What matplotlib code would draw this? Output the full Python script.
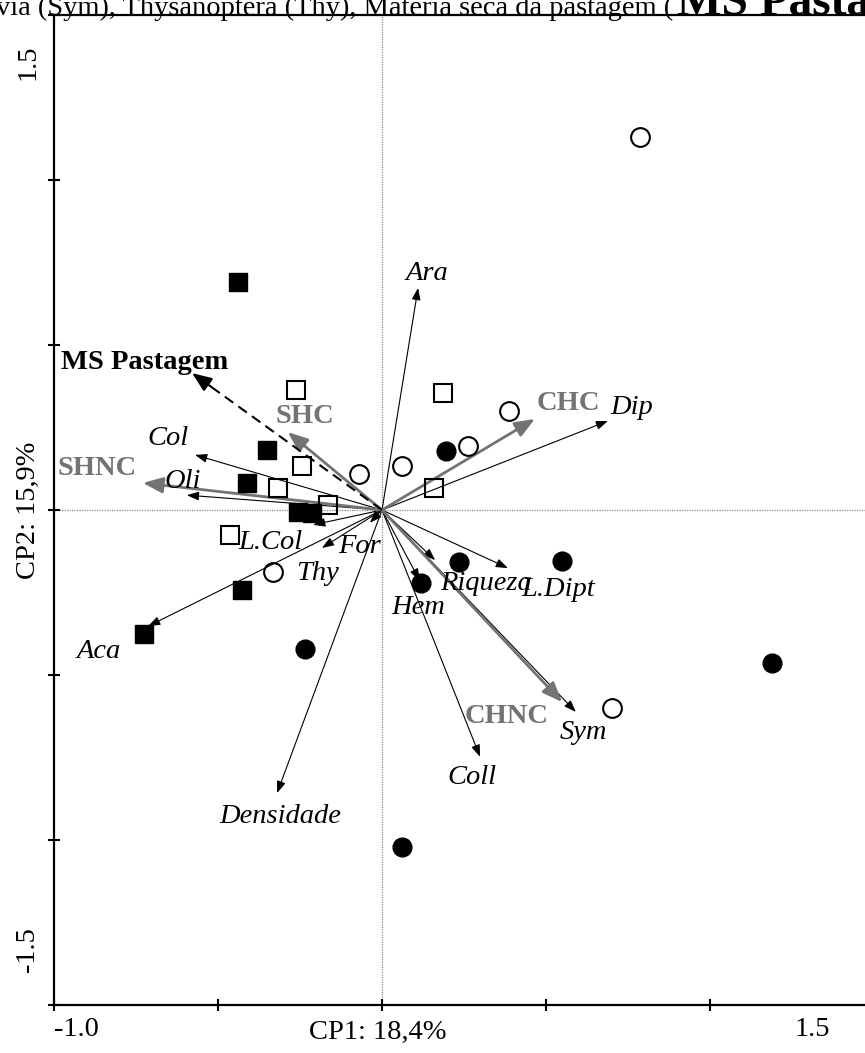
import matplotlib
matplotlib.use("Agg")
import matplotlib.pyplot as plt

plt.rcParams['font.family'] = ['Liberation Serif', 'DejaVu Serif']

# site scores (CP1, CP2) by group
fsq_x = [-0.439, -0.351, -0.412, -0.256, -0.213, -0.427, -0.726]
fsq_y = [0.691, 0.182, 0.082, -0.006, -0.009, -0.242, -0.376]
osq_x = [-0.262, 0.186, -0.244, -0.317, -0.165, 0.159, -0.463]
osq_y = [0.364, 0.355, 0.133, 0.067, 0.015, 0.067, -0.076]
oci_x = [0.787, 0.387, 0.262, 0.061, -0.070, -0.332, 0.701]
oci_y = [1.130, 0.300, 0.194, 0.133, 0.109, -0.188, -0.600]
fci_x = [0.195, 0.235, 0.119, 0.549, -0.235, 1.189, 0.061]
fci_y = [0.179, -0.158, -0.221, -0.155, -0.421, -0.464, -1.021]

# variable loadings (black arrows)
var_names = ["Ara", "Dip", "Col", "Oli", "L.Col", "For", "Thy", "Aca", "Densidade",
             "Riqueza", "L.Dipt", "Hem", "Coll", "Sym"]
var_x = [0.110, 0.689, -0.570, -0.595, -0.210, -0.037, -0.183, -0.713, -0.320,
         0.162, 0.384, 0.115, 0.299, 0.591]
var_y = [0.673, 0.270, 0.167, 0.045, -0.045, -0.039, -0.115, -0.352, -0.858,
         -0.152, -0.176, -0.214, -0.748, -0.612]
var_lab = [(0.137, 0.718), (0.762, 0.312), (-0.652, 0.218), (-0.607, 0.085),
           (-0.341, -0.097), (-0.067, -0.112), (-0.198, -0.191), (-0.863, -0.430),
           (-0.311, -0.930), (0.317, -0.224), (0.537, -0.242), (0.110, -0.294),
           (0.274, -0.812), (0.613, -0.673)]

# treatment loadings (grey arrows)
trt_names = ["SHC", "SHNC", "CHC", "CHNC"]
trt_x = [-0.287, -0.729, 0.466, 0.549]
trt_y = [0.236, 0.082, 0.276, -0.582]
trt_lab = [(-0.235, 0.282), (-0.869, 0.127), (0.567, 0.324), (0.381, -0.627)]

# supplementary variable (dashed)
ms_x, ms_y = -0.579, 0.415
ms_lab = (-0.723, 0.448)

W, H = 865, 1053
fig = plt.figure(figsize=(W / 100, H / 100), dpi=100)
ax = fig.add_axes([54 / W, (H - 1005) / H, 820 / W, 990 / H])
ax.set_xlim(-1.0, 1.5)
ax.set_ylim(-1.5, 1.5)

ax.axvline(0, color="#888888", lw=0.9, ls=(0, (1, 1)), zorder=1)
ax.axhline(0, color="#888888", lw=0.9, ls=(0, (1, 1)), zorder=1)

fs = 20.5
for name, x, y, (lx, ly) in zip(var_names, var_x, var_y, var_lab):
    ax.annotate("", xy=(x, y), xytext=(0, 0),
                arrowprops=dict(arrowstyle="-|>,head_length=0.6,head_width=0.22",
                                mutation_scale=12, color="black", lw=0.8,
                                shrinkA=0, shrinkB=0), zorder=2)
    ax.text(lx, ly, name, style="italic", fontsize=fs, ha="center", va="center")

for name, x, y, (lx, ly) in zip(trt_names, trt_x, trt_y, trt_lab):
    ax.annotate("", xy=(x, y), xytext=(0, 0),
                arrowprops=dict(arrowstyle="-|>,head_length=0.8,head_width=0.32",
                                mutation_scale=15, color="#737373", lw=2.0,
                                shrinkA=0, shrinkB=0), zorder=2)
    ax.text(lx, ly, name, fontweight="bold", color="#737373", fontsize=fs,
            ha="center", va="center")

ax.plot([0, ms_x * 0.93], [0, ms_y * 0.93], color="black", lw=1.5,
        ls=(0, (5, 3)), zorder=2)
ax.annotate("", xy=(ms_x, ms_y), xytext=(ms_x * 0.9, ms_y * 0.9),
            arrowprops=dict(arrowstyle="-|>,head_length=0.8,head_width=0.32",
                            mutation_scale=15, color="black", lw=1.5,
                            shrinkA=0, shrinkB=0), zorder=2)
ax.text(ms_lab[0], ms_lab[1], "MS Pastagem", fontweight="bold", fontsize=fs,
        ha="center", va="center")

ms = 13.5
ax.plot(fsq_x, fsq_y, "s", ms=ms, color="black", zorder=3)
ax.plot(osq_x, osq_y, "s", ms=ms, mfc="none", mec="black", mew=1.5, zorder=3)
ax.plot(oci_x, oci_y, "o", ms=ms, mfc="none", mec="black", mew=1.5, zorder=3)
ax.plot(fci_x, fci_y, "o", ms=ms, color="black", zorder=3)

ax.set_xticks([-1.0, -0.5, 0, 0.5, 1.0, 1.5])
ax.set_yticks([-1.5, -1.0, -0.5, 0, 0.5, 1.0, 1.5])
ax.tick_params(direction="inout", length=9, width=1.5,
               labelbottom=False, labelleft=False)
for s in ax.spines.values():
    s.set_linewidth(1.6)

def px(x, y):
    return x / W, 1 - y / H

fig.text(*px(76, 1030), "-1.0", fontsize=fs, ha="center", va="center")
fig.text(*px(812, 1030), "1.5", fontsize=fs, ha="center", va="center")
fig.text(*px(378, 1032), "CP1: 18,4%", fontsize=fs, ha="center", va="center")
fig.text(*px(28, 62), "1.5", fontsize=fs, ha="center", va="center", rotation=90)
fig.text(*px(28, 950), "-1.5", fontsize=fs, ha="center", va="center", rotation=90)
fig.text(*px(28, 510), "CP2: 15,9%", fontsize=fs, ha="center", va="center", rotation=90)

# caption fragment at the top (cropped in the original)
base = px(0, 15)[1]
t1 = fig.text(-4 / W, base, "via (Sym), Thysanoptera (Thy), Matéria seca da pastagem (",
              fontsize=fs, ha="left", va="baseline")
ax.annotate("MS Pastagem)", xy=(1.0, base), xycoords=(t1, "figure fraction"),
            xytext=(4, 0), textcoords="offset pixels", fontsize=34,
            fontweight="bold", ha="left", va="baseline", annotation_clip=False)

fig.savefig("out.png", dpi=100)
